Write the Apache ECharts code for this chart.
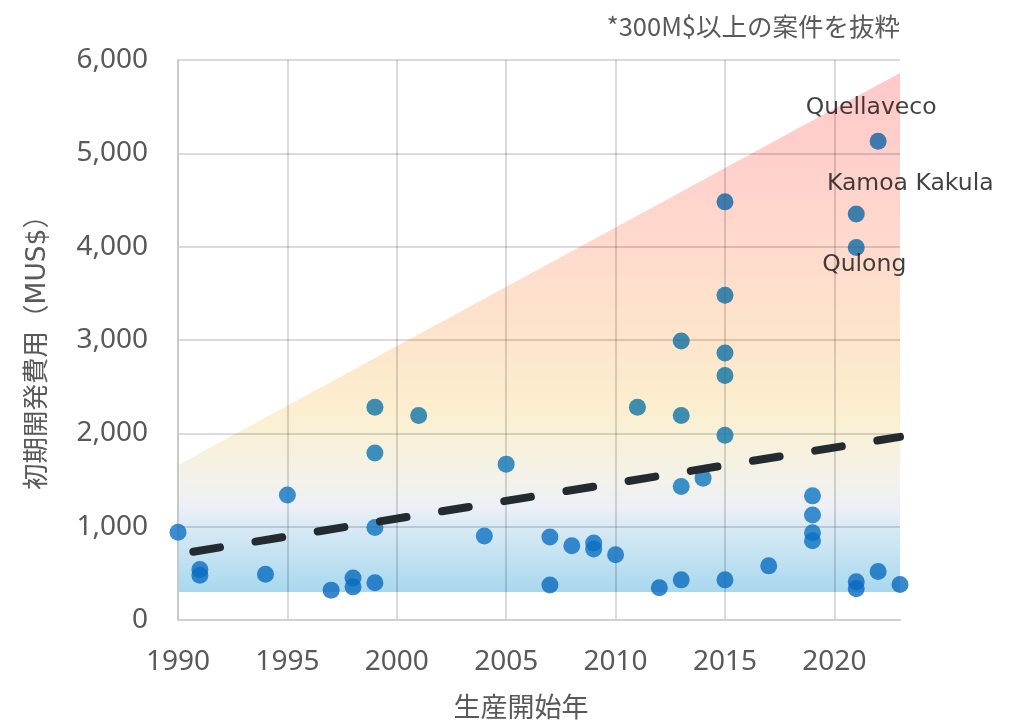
<!DOCTYPE html>
<html>
<head>
<meta charset="utf-8">
<script src="https://cdn.jsdelivr.net/npm/echarts@6/dist/echarts.min.js"></script>
<style>
html,body{margin:0;padding:0;background:#fff;}
#chart{width:1020px;height:720px;}
</style>
</head>
<body>
<div id="chart"></div>
<script>
// ---- data ----
const years = [1990,1991,1991,1994,1995,1997,1998,1998,1999,1999,1999,1999,2001,2004,2005,2007,2007,2008,2009,2009,2010,2011,2012,2013,2013,2013,2013,2014,2015,2015,2015,2015,2015,2015,2017,2019,2019,2019,2019,2021,2021,2021,2021,2022,2022,2023];
const costs = [940,540,480,490,1340,320,450,355,400,990,1790,2280,2190,900,1670,890,375,795,825,760,700,2280,345,2990,2190,1430,430,1520,4480,3480,2860,2620,1980,430,580,1330,1125,935,850,410,335,4350,3990,520,5130,380];
const namedYears = [2022, 2021, 2021];
const namedCosts = [5130, 4350, 3990];
const namedLabels = ['Quellaveco', 'Kamoa Kakula', 'Qulong'];
const trendYears = [1990.7, 2023];
const trendCosts = [732, 1962];
const bandYears = [1990, 2023];
const bandTop = [1660, 5860];
const bandBottom = 300;
const xTicks = [1990, 1995, 2000, 2005, 2010, 2015, 2020];
const yTicks = [0, 1000, 2000, 3000, 4000, 5000, 6000];
const titleText = '*300M$以上の案件を抜粋';
const xName = '生産開始年';
const yName = '初期開発費用（MUS$）';

// ---- styles ----
const labelOffsets = {
  'Quellaveco': [-7, -33],
  'Kamoa Kakula': [54, -30],
  'Qulong': [8, 17]
};
const gradStops = [
  [0, '#FFC9C9'], [0.155, '#FFCFCB'], [0.335, '#FFDACD'], [0.514, '#FDE5CB'],
  [0.640, '#FCEECE'], [0.694, '#F9F1D7'], [0.784, '#F3F2EA'], [0.838, '#EDEFF7'],
  [0.874, '#D9EAF4'], [1, '#A8D8EE']
];
const pointBase = [14, 124, 204];
const latin = "'DejaVu Sans', 'Noto Sans CJK JP', sans-serif";
const tickFont = "'Noto Sans', 'DejaVu Sans', sans-serif";
const cjk = "'Noto Sans CJK JP', 'DejaVu Sans', sans-serif";
const grey = '#595959';

function hexRgb(h) { return [1, 3, 5].map(i => parseInt(h.substr(i, 2), 16)); }
// colour of the background band at a given cost (vertical gradient), used to tint points
function bandColorAt(v) {
  const t = Math.min(1, Math.max(0, (bandTop[1] - v) / (bandTop[1] - bandBottom)));
  for (let i = 1; i < gradStops.length; i++) {
    if (t <= gradStops[i][0]) {
      const a = gradStops[i - 1], b = gradStops[i];
      const f = (t - a[0]) / (b[0] - a[0]);
      const ca = hexRgb(a[1]), cb = hexRgb(b[1]);
      return ca.map((c, k) => c + (cb[k] - c) * f);
    }
  }
  return hexRgb(gradStops[gradStops.length - 1][1]);
}
function tinted(v) {
  const bg = bandColorAt(v);
  const c = pointBase.map((p, k) => Math.round(p * bg[k] / 255));
  return 'rgb(' + c.join(',') + ')';
}

const scatterData = years.map((y, i) => {
  const item = { value: [y, costs[i]], itemStyle: { color: tinted(costs[i]) } };
  for (let k = 0; k < namedLabels.length; k++) {
    if (namedYears[k] === y && namedCosts[k] === costs[i]) {
      item.name = namedLabels[k];
      item.label = {
        show: true, position: 'inside', offset: labelOffsets[namedLabels[k]],
        formatter: '{b}', color: '#111111', fontSize: 23.5, fontFamily: latin,
        textBorderWidth: 0
      };
    }
  }
  return item;
});

const chart = echarts.init(document.getElementById('chart'), null, { renderer: 'canvas' });
chart.setOption({
  animation: false,
  backgroundColor: '#fff',
  title: {
    text: titleText, right: 115, top: 9,
    textStyle: { color: grey, fontSize: 25.5, fontWeight: 'normal', fontFamily: cjk }
  },
  grid: { left: 178, right: 120, top: 60, bottom: 100, outerBoundsMode: 'none', containLabel: false },
  xAxis: {
    type: 'value', min: xTicks[0], max: 2023, interval: 5,
    name: xName, nameLocation: 'middle', nameGap: 73,
    nameTextStyle: { color: grey, fontSize: 27, fontFamily: cjk, padding: [0, 36, 0, 0] },
    axisLine: { show: true, lineStyle: { color: '#D0D0D0', width: 2 } },
    axisTick: { show: false },
    axisLabel: { color: grey, fontSize: 28, fontFamily: tickFont, margin: 28, showMaxLabel: false,
      formatter: v => xTicks.indexOf(v) >= 0 ? String(v) : '' },
    splitLine: { show: true, showMaxLine: false, lineStyle: { color: 'rgba(0,0,0,0.14)', width: 2 } }
  },
  yAxis: {
    type: 'value', min: yTicks[0], max: yTicks[yTicks.length - 1], interval: 1000,
    name: yName, nameLocation: 'middle', nameGap: 127, nameRotate: 90,
    nameTextStyle: { color: grey, fontSize: 26.5, fontFamily: latin, padding: [0, 12, 0, 0] },
    axisLine: { show: true, lineStyle: { color: '#C8C8C8', width: 2 } },
    axisTick: { show: false },
    axisLabel: { color: grey, fontSize: 28, fontFamily: tickFont, margin: 30,
      formatter: v => v.toLocaleString('en-US') },
    splitLine: { show: true, lineStyle: { color: 'rgba(0,0,0,0.14)', width: 2 } }
  },
  series: [
    {
      type: 'custom', z: -1, silent: true,
      data: [[bandYears[0], bandBottom]],
      renderItem: function (params, api) {
        const p1 = api.coord([bandYears[0], bandBottom]);
        const p2 = api.coord([bandYears[0], bandTop[0]]);
        const p3 = api.coord([bandYears[1], bandTop[1]]);
        const p4 = api.coord([bandYears[1], bandBottom]);
        return {
          type: 'polygon', silent: true,
          shape: { points: [p1, p2, p3, p4] },
          style: {
            fill: {
              type: 'linear', x: 0, y: 0, x2: 0, y2: 1,
              colorStops: gradStops.map(s => ({ offset: s[0], color: s[1] }))
            }
          }
        };
      }
    },
    {
      type: 'scatter', z: 2, symbolSize: 17,
      data: scatterData
    },
    {
      type: 'line', z: 3, symbol: 'none', silent: true,
      lineStyle: { color: '#232B30', width: 8, type: [27, 36], cap: 'round' },
      data: trendYears.map((y, i) => [y, trendCosts[i]])
    }
  ]
});
</script>
</body>
</html>
